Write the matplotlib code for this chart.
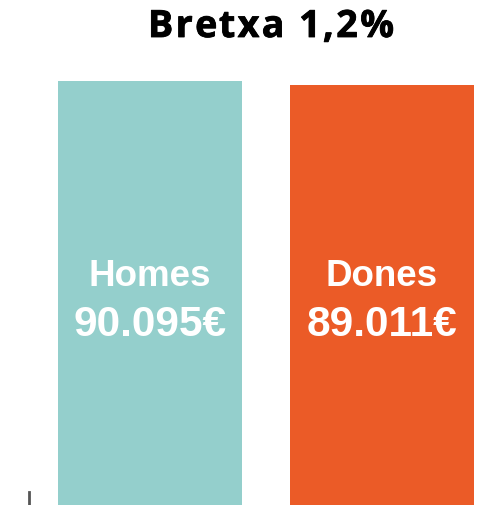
import matplotlib
matplotlib.use("Agg")
import matplotlib.pyplot as plt
import matplotlib.transforms as mtransforms
import matplotlib.patheffects as pe
from matplotlib.font_manager import FontProperties

# dades
categories = ["Homes", "Dones"]
salaris = [90095, 89011]
etiquetes_valor = ["90.095€", "89.011€"]
colors = ["#94CFCC", "#EB5B27"]
titol = "Bretxa 1,2%"

W, H = 488, 506
fig = plt.figure(figsize=(W / 100, H / 100), dpi=100)
ax = fig.add_axes([0, 0, 1, 1])

# escala: els pals arrenquen des de baix de tot
per_px = (salaris[0] - salaris[1]) / 4.5
ymax = salaris[0] + 82 * per_px
ymin = salaris[0] - (H + 2 - 82) * per_px
ax.set_ylim(ymin, ymax)
ax.set_xlim(-150 / 232, (W - 150) / 232)

x = list(range(len(categories)))
ax.bar(x, [v - ymin for v in salaris], bottom=ymin, width=184 / 232, color=colors)

for s in ["top", "right", "bottom"]:
    ax.spines[s].set_visible(False)
ax.spines["left"].set_position(("data", (29 - 150) / 232))
ax.spines["left"].set_bounds(ymin, salaris[0] - (495 - 82) * per_px)
ax.spines["left"].set_color("#555555")
ax.spines["left"].set_linewidth(2)
ax.set_xticks([]); ax.set_yticks([])
ax.patch.set_alpha(0)

trans = mtransforms.blended_transform_factory(ax.transData, fig.transFigure)
for i, (cat, val) in enumerate(zip(categories, etiquetes_valor)):
    ax.text(i, 1 - 285.7 / H, cat, transform=trans, ha="center", va="baseline",
            color="white", fontsize=26.5, fontweight="bold", family="Liberation Sans")
    ax.text(i, 1 - 335.7 / H, val, transform=trans, ha="center", va="baseline",
            color="white", fontsize=30.5, fontweight="bold", family="Liberation Sans")

# títol: Open Sans una mica més gruixuda i amb poc espaiat
prop = FontProperties(family="Open Sans", weight="bold", size=27)
rend = fig.canvas.get_renderer()
def amplada(s):
    return rend.get_text_width_height_descent(s, prop, ismath=False)[0]
ref_w = amplada("H")
natural = [0.0] + [amplada(titol[:k] + "H") - ref_w for k in range(1, len(titol))]
nat_total = natural[-1] + amplada(titol[-1])
track = (246 - nat_total) / (len(titol) - 1)
pos = [p + k * track for k, p in enumerate(natural)]
x0 = 148
gruix = [pe.withStroke(linewidth=0.6, foreground="black")]
for ch, p in zip(titol, pos):
    if ch == " ":
        continue
    fig.text((x0 + p) / W, 1 - 38 / H, ch, ha="left", va="baseline",
             fontproperties=prop, color="black", path_effects=gruix)

fig.savefig("out.png", dpi=100)
